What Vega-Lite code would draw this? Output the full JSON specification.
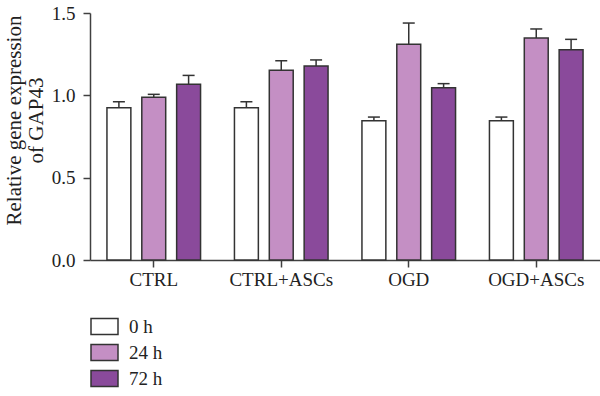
{
  "$schema": "https://vega.github.io/schema/vega-lite/v6.json",
  "width": 510,
  "height": 247,
  "padding": {"left": 3, "top": 4, "right": 0, "bottom": 0},
  "background": "white",
  "config": {
    "view": {"stroke": null},
    "font": "Liberation Serif",
    "axis": {
      "domainColor": "#404040",
      "domainWidth": 1.5,
      "tickColor": "#404040",
      "tickWidth": 1.5,
      "tickSize": 7,
      "labelFontSize": 19,
      "labelColor": "#222222",
      "titleFontSize": 21,
      "titleFontWeight": "normal",
      "titleColor": "#222222",
      "grid": false
    }
  },
  "data": {
    "values": [
      {"group": "CTRL", "time": "0 h", "value": 0.925, "upper": 0.961},
      {"group": "CTRL", "time": "24 h", "value": 0.988, "upper": 1.006},
      {"group": "CTRL", "time": "72 h", "value": 1.067, "upper": 1.121},
      {"group": "CTRL+ASCs", "time": "0 h", "value": 0.925, "upper": 0.961},
      {"group": "CTRL+ASCs", "time": "24 h", "value": 1.152, "upper": 1.21},
      {"group": "CTRL+ASCs", "time": "72 h", "value": 1.178, "upper": 1.215},
      {"group": "OGD", "time": "0 h", "value": 0.846, "upper": 0.868},
      {"group": "OGD", "time": "24 h", "value": 1.31, "upper": 1.439},
      {"group": "OGD", "time": "72 h", "value": 1.046, "upper": 1.071},
      {"group": "OGD+ASCs", "time": "0 h", "value": 0.846, "upper": 0.868},
      {"group": "OGD+ASCs", "time": "24 h", "value": 1.348, "upper": 1.403},
      {"group": "OGD+ASCs", "time": "72 h", "value": 1.277, "upper": 1.34}
    ]
  },
  "encoding": {
    "x": {
      "field": "group",
      "type": "nominal",
      "sort": ["CTRL", "CTRL+ASCs", "OGD", "OGD+ASCs"],
      "scale": {"paddingInner": 0.18, "paddingOuter": 0.09},
      "axis": {"title": null, "labelAngle": 0, "labelPadding": 3}
    },
    "xOffset": {
      "field": "time",
      "type": "nominal",
      "sort": ["0 h", "24 h", "72 h"],
      "scale": {"paddingInner": 0.314, "paddingOuter": 0.157}
    }
  },
  "layer": [
    {
      "mark": {"type": "bar", "stroke": "#333333", "strokeWidth": 1.5},
      "encoding": {
        "y": {
          "field": "value",
          "type": "quantitative",
          "scale": {"domain": [0, 1.5], "nice": false},
          "axis": {
            "values": [0, 0.5, 1, 1.5],
            "format": ".1f",
            "labelPadding": 8,
            "title": ["Relative gene expression", "of GAP43"],
            "titleLineHeight": 22,
            "titlePadding": 5,
            "titleY": 107
          }
        },
        "fill": {
          "field": "time",
          "type": "nominal",
          "scale": {"domain": ["0 h", "24 h", "72 h"], "range": ["#ffffff", "#c48fc4", "#8a4a9b"]},
          "legend": {
            "title": null,
            "orient": "none",
            "legendX": 0,
            "legendY": 299,
            "direction": "vertical",
            "symbolType": "M-1,-0.6L1,-0.6L1,0.6L-1,0.6Z",
            "symbolSize": 729,
            "symbolStrokeColor": "#333333",
            "symbolStrokeWidth": 1.5,
            "symbolOpacity": 1,
            "labelFontSize": 19,
            "labelColor": "#222222",
            "labelOffset": 10,
            "rowPadding": 0
          }
        }
      }
    },
    {
      "mark": {"type": "rule", "stroke": "#333333", "strokeWidth": 1.5},
      "encoding": {
        "y": {"field": "value", "type": "quantitative"},
        "y2": {"field": "upper"}
      }
    },
    {
      "mark": {"type": "tick", "color": "#333333", "thickness": 1.5, "size": 12, "opacity": 1},
      "encoding": {
        "y": {"field": "upper", "type": "quantitative"}
      }
    }
  ]
}
